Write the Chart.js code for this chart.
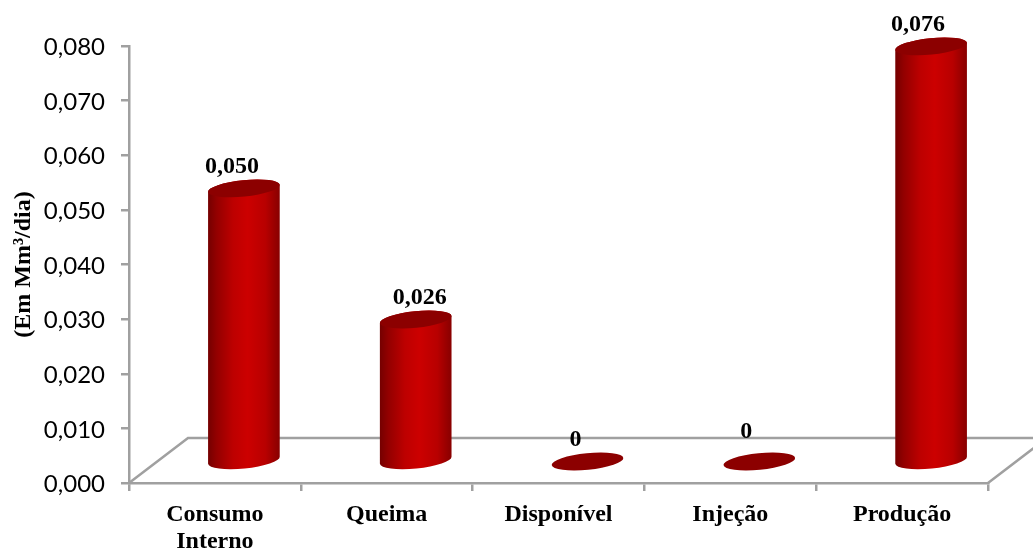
<!DOCTYPE html>
<html lang="pt">
<head>
  <meta charset="UTF-8">
  <title>Gás natural (Em Mm³/dia)</title>
  <script src="https://cdn.jsdelivr.net/npm/chart.js"></script>
  <style>
    html, body { margin: 0; padding: 0; background: #fff; }
    canvas { display: block; }
  </style>
</head>
<body>
  <canvas id="myChart" width="1033" height="548"></canvas>

  <script>
    // chart data
    const categories = [['Consumo', 'Interno'], 'Queima', 'Disponível', 'Injeção', 'Produção'];
    const values = [0.050, 0.026, 0, 0, 0.076];
    const valueLabels = ['0,050', '0,026', '0', '0', '0,076'];

    // 3d look
    const depthX = 59, depthY = -45;       // floor depth
    const shiftX = 29, shiftY = -21.5;     // cylinders stand mid floor
    const radiusX = 36, radiusY = 8.2, tilt = -0.1;
    const axisColor = '#a0a0a0';

    // value labels are not all in the same place, offset from the cylinder top
    const labelShiftX = [-12, 4, -12, -13, -13];
    const labelShiftY = [-22, -22, -22, -30, -22];

    const cylinders = {
      id: 'cylinders',
      beforeDraw(chart) {
        // y tick text sits a bit under its tick in the original
        chart.scales.y.getLabelItems(chart.chartArea).forEach(item => {
          item.options.translation[1] += 1.5;
        });
      },
      beforeDatasetsDraw(chart) {
        const { ctx, scales: { x, y } } = chart;
        const left = x.left, right = x.right, floor = y.getPixelForValue(0);
        ctx.save();
        ctx.strokeStyle = axisColor;
        ctx.lineWidth = 2.5;
        ctx.beginPath();
        ctx.moveTo(left, floor);
        ctx.lineTo(left + depthX, floor + depthY);
        ctx.lineTo(chart.width, floor + depthY);
        ctx.moveTo(right, floor);
        ctx.lineTo(right + depthX, floor + depthY);
        ctx.stroke();
        ctx.restore();
      },
      afterDatasetsDraw(chart) {
        const { ctx } = chart;
        const bars = chart.getDatasetMeta(0).data;
        bars.forEach((bar, i) => {
          const cx = bar.x + shiftX, top = bar.y + shiftY, base = bar.base + shiftY;
          ctx.save();
          if (base - top > 1) {
            const grad = ctx.createLinearGradient(cx - radiusX, 0, cx + radiusX, 0);
            grad.addColorStop(0, '#740000');
            grad.addColorStop(0.12, '#930000');
            grad.addColorStop(0.35, '#bd0000');
            grad.addColorStop(0.55, '#cc0000');
            grad.addColorStop(0.8, '#b80000');
            grad.addColorStop(0.95, '#930000');
            grad.addColorStop(1, '#880000');
            ctx.fillStyle = grad;
            ctx.beginPath();
            ctx.ellipse(cx, base, radiusX, radiusY, tilt, 0, Math.PI);
            ctx.ellipse(cx, top, radiusX, radiusY, tilt, Math.PI, 0);
            ctx.closePath();
            ctx.fill();
          }
          ctx.fillStyle = '#8c0000';
          ctx.beginPath();
          ctx.ellipse(cx, top, radiusX, radiusY, tilt, 0, Math.PI * 2);
          ctx.fill();

          ctx.fillStyle = '#000';
          ctx.font = 'bold 24px "Liberation Serif"';
          ctx.textAlign = 'center';
          ctx.textBaseline = 'middle';
          ctx.fillText(valueLabels[i], cx + labelShiftX[i], top + labelShiftY[i]);
          ctx.restore();
        });
      }
    };

    const ctx = document.getElementById('myChart').getContext('2d');
    new Chart(ctx, {
      type: 'bar',
      data: {
        labels: categories,
        datasets: [{
          data: values,
          backgroundColor: 'transparent'
        }]
      },
      options: {
        responsive: false,
        animation: false,
        layout: { padding: { top: 46, right: 45, left: 0, bottom: 0 } },
        plugins: {
          legend: { display: false },
          tooltip: { enabled: false }
        },
        scales: {
          x: {
            afterFit(scale) { scale.height = 65; },
            grid: { drawOnChartArea: false, color: axisColor, tickLength: 8, lineWidth: 2.5 },
            border: { color: axisColor, width: 2.5 },
            ticks: {
              color: '#000',
              maxRotation: 0,
              autoSkip: false,
              padding: 10,
              font: { family: '"Liberation Serif"', size: 24, weight: 'bold', lineHeight: 1.13 }
            }
          },
          y: {
            min: 0,
            max: 0.08,
            afterFit(scale) { scale.width = 129; },
            grid: { drawOnChartArea: false, color: axisColor, tickLength: 8, lineWidth: 2.5 },
            border: { color: axisColor, width: 2.5 },
            ticks: {
              stepSize: 0.01,
              color: '#000',
              padding: 16,
              font: { family: 'Lato', size: 24 },
              callback: v => v.toFixed(3).replace('.', ',')
            },
            title: {
              display: true,
              text: '(Em Mm³/dia)',
              color: '#000',
              padding: { top: 9, bottom: 0 },
              font: { family: '"Liberation Serif"', size: 24, weight: 'bold' }
            }
          }
        }
      },
      plugins: [cylinders]
    });
  </script>
</body>
</html>
